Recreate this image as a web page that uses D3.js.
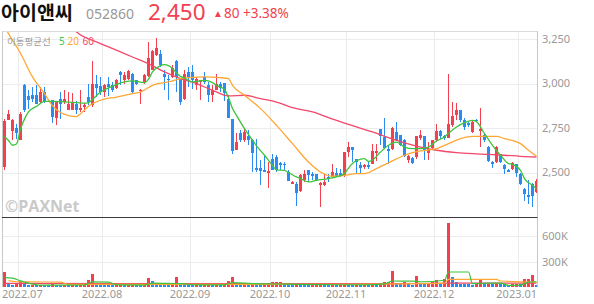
<!DOCTYPE html>
<html><head><meta charset="utf-8">
<script src="https://cdn.jsdelivr.net/npm/d3@7"></script>
<style>
html,body{margin:0;padding:0;background:#fff;}
svg{display:block;font-family:"Noto Sans","Noto Sans CJK KR",sans-serif;}
</style>
</head><body>
<svg id="chart" width="594" height="304"></svg>
<script>
// ---- data ----
const stockName = "아이앤씨";
const stockCode = "052860";
const lastPrice = "2,450";
const changeAbs = "80";
const changePct = "+3.38%";

const dates = ("2022-06-27 2022-06-28 2022-06-29 2022-06-30 " +
 "2022-07-01 2022-07-04 2022-07-05 2022-07-06 2022-07-07 2022-07-08 2022-07-11 2022-07-12 2022-07-13 2022-07-14 2022-07-15 2022-07-18 2022-07-19 2022-07-20 2022-07-21 2022-07-22 2022-07-25 2022-07-26 2022-07-27 2022-07-28 2022-07-29 " +
 "2022-08-01 2022-08-02 2022-08-03 2022-08-04 2022-08-05 2022-08-08 2022-08-09 2022-08-10 2022-08-11 2022-08-12 2022-08-16 2022-08-17 2022-08-18 2022-08-19 2022-08-22 2022-08-23 2022-08-24 2022-08-25 2022-08-26 2022-08-29 2022-08-30 2022-08-31 " +
 "2022-09-01 2022-09-02 2022-09-05 2022-09-06 2022-09-07 2022-09-08 2022-09-13 2022-09-14 2022-09-15 2022-09-16 2022-09-19 2022-09-20 2022-09-21 2022-09-22 2022-09-23 2022-09-26 2022-09-27 2022-09-28 2022-09-29 2022-09-30 " +
 "2022-10-04 2022-10-05 2022-10-06 2022-10-07 2022-10-11 2022-10-12 2022-10-13 2022-10-14 2022-10-17 2022-10-18 2022-10-19 2022-10-20 2022-10-21 2022-10-24 2022-10-25 2022-10-26 2022-10-27 2022-10-28 2022-10-31 " +
 "2022-11-01 2022-11-02 2022-11-03 2022-11-04 2022-11-07 2022-11-08 2022-11-09 2022-11-10 2022-11-11 2022-11-14 2022-11-15 2022-11-16 2022-11-17 2022-11-18 2022-11-21 2022-11-22 2022-11-23 2022-11-24 2022-11-25 2022-11-28 2022-11-29 2022-11-30 " +
 "2022-12-01 2022-12-02 2022-12-05 2022-12-06 2022-12-07 2022-12-08 2022-12-09 2022-12-12 2022-12-13 2022-12-14 2022-12-15 2022-12-16 2022-12-19 2022-12-20 2022-12-21 2022-12-22 2022-12-23 2022-12-26 2022-12-27 2022-12-28 2022-12-29 " +
 "2023-01-02 2023-01-03 2023-01-04 2023-01-05 2023-01-06").split(" ");

const open  = [2531,2797,2733,2750,2685,2990,2930,2933,2933,2896,2952,2900,2906,2808,2915,2896,2850,2853,2883,2850,2866,2924,2878,2999,2984,2952,2999,2990,2977,3065,3022,3027,3055,3018,2960,3009,3040,3078,3159,3168,3055,3027,3037,3127,3027,2915,3065,3065,2990,3010,3037,2990,2938,2966,2995,3003,2915,2803,2628,2722,2681,2703,2681,2526,2526,2516,2497,2578,2587,2554,2550,2503,2437,2437,2396,2456,2512,2494,2490,2428,2428,2475,2475,2497,2497,2484,2615,2643,2578,2540,2531,2544,2550,2610,2746,2700,2634,2634,2728,2709,2685,2572,2583,2587,2695,2703,2610,2640,2681,2733,2704,2696,2765,2821,2849,2797,2778,2728,2797,2733,2709,2643,2559,2559,2602,2540,2516,2522,2546,2494,2409,2372,2434,2390];
const high  = [2800,2853,2799,2775,2840,2995,2965,2980,2990,2980,2980,2910,2910,2900,2950,2965,2952,2945,2900,2962,2890,2999,3127,3046,3037,2995,3037,3010,3027,3070,3065,3074,3059,3020,2970,3055,3233,3187,3258,3187,3074,3050,3102,3134,3030,3074,3093,3102,3037,3022,3065,3009,2990,3055,3009,3003,2934,2803,2722,2737,2746,2737,2690,2690,2569,2597,2559,2606,2597,2559,2559,2512,2453,2447,2494,2512,2516,2503,2494,2447,2494,2490,2550,2527,2522,2615,2671,2643,2578,2559,2545,2559,2662,2658,2746,2808,2653,2756,2784,2709,2690,2597,2587,2703,2737,2703,2671,2685,2775,2737,2709,3055,2896,2891,2849,2808,2784,2790,2803,2864,2715,2647,2565,2647,2606,2550,2522,2559,2550,2497,2415,2456,2441,2465];
const low   = [2516,2793,2685,2690,2680,2840,2855,2896,2883,2890,2893,2895,2778,2765,2800,2887,2850,2850,2830,2840,2840,2878,2868,2924,2934,2924,2928,2950,2971,2990,2999,3018,2940,2990,2887,2999,3037,3074,3153,3093,2962,2905,3033,2952,2878,2905,2980,2971,2966,2906,2999,2896,2896,2962,2952,2902,2808,2606,2625,2671,2671,2652,2503,2503,2428,2503,2415,2512,2503,2516,2512,2453,2434,2310,2390,2447,2447,2460,2453,2306,2422,2447,2471,2475,2475,2475,2587,2559,2494,2497,2522,2522,2546,2565,2653,2634,2546,2628,2681,2647,2587,2554,2546,2578,2681,2572,2568,2634,2671,2690,2681,2696,2756,2797,2784,2737,2756,2722,2784,2643,2671,2559,2527,2554,2554,2494,2503,2516,2475,2428,2340,2325,2306,2385];
const close = [2790,2831,2797,2722,2831,2853,2906,2915,2887,2952,2896,2902,2812,2896,2887,2915,2883,2890,2850,2865,2878,2896,2999,2977,2952,2990,2980,2965,3018,3046,3046,3069,2952,3000,2965,3046,3145,3183,3202,3102,3037,3018,3089,3037,2896,3055,3037,3018,3027,3018,3009,2934,2962,2995,2977,2947,2808,2621,2671,2681,2728,2681,2610,2512,2509,2503,2508,2516,2512,2540,2544,2453,2447,2385,2484,2490,2484,2479,2456,2441,2447,2465,2503,2480,2480,2615,2643,2628,2559,2527,2540,2531,2621,2621,2704,2640,2621,2752,2685,2653,2591,2591,2554,2703,2709,2621,2634,2681,2733,2704,2696,2771,2816,2849,2797,2756,2767,2784,2788,2745,2681,2565,2550,2643,2559,2522,2503,2554,2497,2434,2377,2362,2370,2450];
// volume in thousands of shares
const volumeK = [178,30,18,30,75,40,25,28,22,25,22,18,30,28,22,25,18,24,20,28,40,80,150,35,30,25,22,18,22,25,20,22,30,25,20,35,107,67,40,35,30,25,40,118,45,35,28,25,30,22,25,28,22,35,22,40,70,119,40,30,35,28,50,35,30,35,45,60,60,60,35,30,25,40,35,30,25,25,30,40,35,25,30,25,25,40,30,25,25,22,25,22,40,30,50,59,59,186,40,35,59,30,25,126,35,30,40,71,79,40,91,759,119,60,40,35,30,28,40,79,35,40,30,45,35,30,25,30,35,30,91,91,138,28];

// moving averages: [candle index, value]
const ma5 = [[0,2703],[1,2680],[2,2653],[3,2660],[4,2745],[5,2800],[6,2840],[8,2872],[10,2900],[12,2900],[15,2897],[18,2893],[20,2890],[21,2893],[22,2910],[24,2952],[26,2975],[28,2995],[30,3009],[32,3015],[34,3008],[35,3005],[36,3025],[37,3065],[39,3100],[40,3106],[41,3100],[42,3084],[43,3060],[44,3040],[45,3030],[47,3009],[50,3018],[52,3005],[53,2990],[55,2966],[56,2920],[57,2860],[58,2821],[60,2746],[62,2681],[63,2650],[65,2597],[67,2540],[68,2515],[70,2512],[71,2500],[73,2475],[74,2466],[76,2447],[78,2456],[81,2466],[83,2475],[85,2494],[86,2525],[87,2550],[88,2566],[90,2578],[91,2562],[92,2570],[94,2615],[96,2653],[98,2671],[100,2643],[102,2634],[104,2634],[106,2643],[108,2677],[110,2700],[111,2720],[113,2756],[115,2780],[117,2793],[118,2786],[120,2718],[122,2653],[124,2597],[126,2550],[127,2546],[129,2512],[130,2466],[132,2428],[133,2409]];
const ma20 = [[0,3320],[1,3280],[4,3170],[7,3037],[10,2943],[12,2875],[14,2837],[16,2820],[18,2814],[19,2830],[21,2872],[24,2906],[28,2924],[32,2943],[34,2952],[37,2990],[41,3009],[44,3027],[47,3035],[50,3037],[54,3033],[56,3027],[57,2990],[60,2934],[64,2859],[68,2765],[72,2662],[76,2559],[79,2503],[82,2479],[85,2484],[88,2494],[90,2494],[93,2522],[96,2554],[100,2597],[104,2621],[108,2634],[111,2662],[114,2690],[117,2703],[120,2703],[123,2703],[125,2690],[129,2662],[131,2625],[133,2591]];
const ma60 = [[17,3310],[18,3290],[24,3224],[28,3187],[32,3149],[36,3112],[40,3065],[44,3027],[48,2999],[52,2962],[56,2930],[60,2934],[64,2915],[68,2896],[72,2864],[77,2840],[81,2808],[85,2778],[88,2756],[92,2728],[96,2696],[100,2666],[104,2643],[108,2625],[113,2612],[117,2606],[121,2602],[125,2597],[129,2591],[133,2587]];
const vma5  = [[0,110],[2,105],[4,72],[6,45],[9,22],[20,24],[22,60],[26,58],[28,25],[35,22],[37,45],[41,42],[44,40],[48,25],[55,26],[57,52],[62,40],[70,34],[80,28],[90,26],[95,38],[97,71],[102,70],[104,62],[110,80],[111,178],[116,178],[117,40],[121,45],[124,47],[126,20],[129,22],[131,58],[133,62]];
const vma20 = [[1,75],[3,62],[6,60],[14,58],[16,30],[40,30],[60,32],[80,32],[100,38],[110,45],[111,91],[123,91],[124,71],[133,59]];
const vma60 = [[0,42],[30,40],[60,40],[90,40],[110,42],[111,47],[133,47]];

const priceTicks = [2500, 2750, 3000, 3250];
const volumeTicks = [300, 600];
const legendLabels = ["5", "20", "60"];

// ---- drawing ----
const L = 2, R = 538, TOP = 31, SPLIT = 217, BOT = 287;
const UP = "#f2404e", DOWN = "#2a8bf0";
const C5 = "#3cc43c", C20 = "#ffa733", C60 = "#f2486a";

const svg = d3.select("#chart");
const idx = d3.range(dates.length);
const x = d3.scaleBand().domain(idx).range([L, R]).padding(0);
const y = d3.scaleLinear().domain([2250, 3295]).range([SPLIT, TOP]);
const yv = d3.scaleLinear().domain([0, 300]).range([BOT, 261.7]);

// grid
const monthStarts = idx.filter(i => i === 0 ? false : dates[i].slice(0,7) !== dates[i-1].slice(0,7));
const grid = svg.append("g").attr("stroke", "#ececec").attr("stroke-width", 1);
monthStarts.forEach(i => {
  const gx = Math.round(x(i)) + 0.5;
  grid.append("line").attr("x1", gx).attr("x2", gx).attr("y1", TOP).attr("y2", BOT);
});
priceTicks.forEach(p => {
  const gy = Math.round(y(p)) + 0.5;
  grid.append("line").attr("x1", L).attr("x2", 537).attr("y1", gy).attr("y2", gy);
});
volumeTicks.forEach(v => {
  const gy = Math.round(yv(v)) + 0.5;
  grid.append("line").attr("x1", L).attr("x2", 537).attr("y1", gy).attr("y2", gy);
});

// watermark
svg.append("text").attr("x", 5).attr("y", 212).attr("font-size", 16).attr("font-weight", "bold")
  .attr("fill", "#c9c9c9").attr("font-family", "'Open Sans','Noto Sans',sans-serif").text("©PAXNet");

// clips
svg.append("clipPath").attr("id", "pclip").append("rect").attr("x", L).attr("y", TOP).attr("width", 537 - L).attr("height", SPLIT - TOP);
svg.append("clipPath").attr("id", "vclip").append("rect").attr("x", L).attr("y", SPLIT).attr("width", 537 - L).attr("height", BOT - SPLIT);

const pg = svg.append("g").attr("clip-path", "url(#pclip)");
// candles
const cg = pg.append("g");
idx.forEach(i => {
  const up = close[i] >= open[i];
  const col = up ? UP : DOWN;
  const bx = x(i);
  const yH = Math.round(y(high[i])), yL = Math.round(y(low[i]));
  cg.append("rect").attr("x", bx + 2).attr("width", 1).attr("y", yH).attr("height", Math.max(1, yL - yH)).attr("fill", col);
  const yt = Math.round(y(Math.max(open[i], close[i]))), yb = Math.round(y(Math.min(open[i], close[i])));
  cg.append("rect").attr("x", bx + 1).attr("width", 3).attr("y", yt).attr("height", Math.max(1, yb - yt)).attr("fill", col);
});
// MA lines
const lineP = d3.line().x(d => x(d[0]) + 2.5).y(d => y(d[1])).curve(d3.curveMonotoneX);
[[ma60, C60], [ma20, C20], [ma5, C5]].forEach(([data, c]) => {
  pg.append("path").attr("d", lineP(data)).attr("fill", "none").attr("stroke", c).attr("stroke-width", 1.3);
});

// volume bars
const vg = svg.append("g").attr("clip-path", "url(#vclip)");
idx.forEach(i => {
  const up = i === 0 ? true : volumeK[i] >= volumeK[i-1];
  const top = Math.round(yv(volumeK[i]));
  vg.append("rect").attr("x", x(i) + 1).attr("width", 3).attr("y", top).attr("height", BOT - top).attr("fill", up ? UP : DOWN);
});
const lineV = d3.line().x(d => x(d[0]) + 2.5).y(d => yv(d[1])).curve(d3.curveMonotoneX);
[[vma60, C60], [vma20, C20], [vma5, C5]].forEach(([data, c]) => {
  vg.append("path").attr("d", lineV(data)).attr("fill", "none").attr("stroke", c).attr("stroke-width", 1.2);
});

// borders
svg.append("line").attr("x1", L).attr("x2", 537.5).attr("y1", TOP + 0.5).attr("y2", TOP + 0.5).attr("stroke", "#dcdcdc");
svg.append("line").attr("x1", L + 0.5).attr("x2", L + 0.5).attr("y1", TOP).attr("y2", BOT).attr("stroke", "#c8c8c8");
svg.append("line").attr("x1", 537.5).attr("x2", 537.5).attr("y1", TOP).attr("y2", BOT).attr("stroke", "#c8c8c8");
svg.append("line").attr("x1", L).attr("x2", 537.5).attr("y1", SPLIT + 0.5).attr("y2", SPLIT + 0.5).attr("stroke", "#3a3a3a");

// axis labels
const fmt = d3.format(",");
svg.append("g").selectAll("text").data(priceTicks).join("text")
  .attr("x", 542).attr("y", d => y(d)).attr("dy", "0.35em")
  .attr("font-size", 11).attr("fill", "#999").text(d => fmt(d));
svg.append("g").selectAll("text").data(volumeTicks).join("text")
  .attr("x", 542).attr("y", d => yv(d)).attr("dy", "0.35em")
  .attr("font-size", 11).attr("fill", "#999").text(d => d + "K");
monthStarts.forEach(i => {
  const gx = x(i);
  const label = dates[i].slice(0,7).replace("-", ".");
  const t = svg.append("text").attr("y", 298).attr("font-size", 11).attr("fill", "#999").text(label);
  const w = t.node().getComputedTextLength();
  let tx = gx - w / 2;
  if (tx < 2) tx = 2;
  if (tx + w > 537) tx = 537 - w;
  t.attr("x", tx);
});

// legend
const legFont = "'Noto Sans CJK KR','Noto Sans',sans-serif";
svg.append("text").attr("x", 7).attr("y", 45).attr("font-size", 9.5).attr("font-family", legFont)
  .attr("fill", "#a0a0a0").text("이동평균선");
const legX = [59, 67.5, 82.5];
[C5, C20, C60].forEach((c, k) => {
  svg.append("text").attr("x", legX[k]).attr("y", 45).attr("font-size", 10).attr("font-family", "'Noto Sans',sans-serif")
    .attr("fill", c).text(legendLabels[k]);
});

// header
const hFont = "'Noto Sans CJK KR','Noto Sans',sans-serif";
svg.append("text").attr("x", 1).attr("y", 20).attr("font-family", hFont).attr("font-size", 19.5)
  .attr("font-weight", "bold").attr("fill", "#111").text(stockName);
svg.append("text").attr("x", 86).attr("y", 19).attr("font-family", "'Noto Sans',sans-serif").attr("font-size", 14)
  .attr("fill", "#999").text(stockCode);
svg.append("text").attr("x", 148).attr("y", 20).attr("font-family", "'Noto Sans',sans-serif").attr("font-size", 22.5)
  .attr("fill", UP).text(lastPrice);
svg.append("text").attr("x", 213).attr("y", 17).attr("font-family", "'Noto Sans',sans-serif").attr("font-size", 10)
  .attr("fill", UP).text("▲");
svg.append("text").attr("x", 224).attr("y", 18).attr("font-family", "'Noto Sans',sans-serif").attr("font-size", 13.5)
  .attr("fill", UP).text(changeAbs);
svg.append("text").attr("x", 243).attr("y", 18).attr("font-family", "'Noto Sans',sans-serif").attr("font-size", 13.5)
  .attr("fill", UP).text(changePct);
</script>
</body></html>
